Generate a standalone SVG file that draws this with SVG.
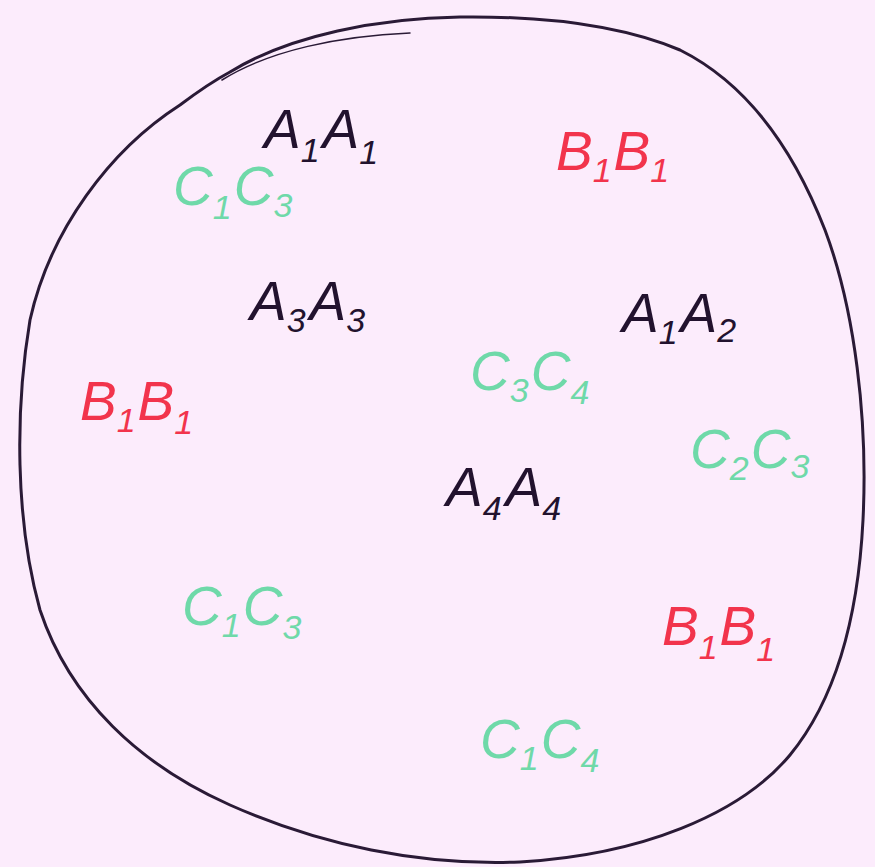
<svg xmlns="http://www.w3.org/2000/svg" width="875" height="867" viewBox="0 0 875 867">
<style>
.lbl{font-family:"Liberation Sans",Arial,sans-serif;font-style:italic;font-size:55px;}
.sub{font-size:34px;}
.a{fill:#22122e;}
.b{fill:#f2344c;}
.c{fill:#6fd9a9;}
.outline{fill:none;stroke:#2a1a36;stroke-width:3;stroke-linecap:round;stroke-linejoin:round;}
</style>
<rect width="875" height="867" fill="#fcecfc"/>
<g id="outline">
<path class="outline" d="M230,72 C290,35 380,18 460,17 C540,16 620,25 680,50 C740,80 790,140 825,230 C855,310 868,420 863,520 C858,620 835,700 790,755 C740,815 640,855 520,862 C420,866 320,845 230,805 C140,765 70,700 40,610 C15,520 15,410 30,320 C50,230 110,150 180,105 C200,90 215,80 230,72"/>
<path class="outline" style="stroke-width:1.5" d="M222,80 C270,50 340,36 410,33"/>
</g>
<g id="A1A1"><text class="lbl a" x="264" y="148">A<tspan class="sub" dy="14">1</tspan><tspan dy="-14" dx="3">A</tspan><tspan class="sub" dy="16">1</tspan></text></g>
<g id="B1B1-top"><text class="lbl b" x="556" y="170">B<tspan class="sub" dy="12">1</tspan><tspan dy="-12" dx="2">B</tspan><tspan class="sub" dy="12">1</tspan></text></g>
<g id="C1C3-top"><text class="lbl c" x="173" y="205">C<tspan class="sub" dy="14">1</tspan><tspan dy="-14" dx="2">C</tspan><tspan class="sub" dy="12">3</tspan></text></g>
<g id="A3A3"><text class="lbl a" x="250" y="320">A<tspan class="sub" dy="12">3</tspan><tspan dy="-12" dx="4">A</tspan><tspan class="sub" dy="12">3</tspan></text></g>
<g id="A1A2"><text class="lbl a" x="622" y="332">A<tspan class="sub" dy="12">1</tspan><tspan dy="-12" dx="3">A</tspan><tspan class="sub" dy="10">2</tspan></text></g>
<g id="C3C4"><text class="lbl c" x="470" y="390">C<tspan class="sub" dy="12">3</tspan><tspan dy="-12" dx="2">C</tspan><tspan class="sub" dy="14">4</tspan></text></g>
<g id="B1B1-left"><text class="lbl b" x="80" y="420">B<tspan class="sub" dy="12">1</tspan><tspan dy="-12" dx="2">B</tspan><tspan class="sub" dy="14">1</tspan></text></g>
<g id="C2C3"><text class="lbl c" x="690" y="468">C<tspan class="sub" dy="12">2</tspan><tspan dy="-12" dx="2">C</tspan><tspan class="sub" dy="10">3</tspan></text></g>
<g id="A4A4"><text class="lbl a" x="446" y="506">A<tspan class="sub" dy="14">4</tspan><tspan dy="-14" dx="4">A</tspan><tspan class="sub" dy="14">4</tspan></text></g>
<g id="C1C3-low"><text class="lbl c" x="182" y="625">C<tspan class="sub" dy="12">1</tspan><tspan dy="-12" dx="2">C</tspan><tspan class="sub" dy="14">3</tspan></text></g>
<g id="B1B1-low"><text class="lbl b" x="662" y="645">B<tspan class="sub" dy="14">1</tspan><tspan dy="-14" dx="2">B</tspan><tspan class="sub" dy="16">1</tspan></text></g>
<g id="C1C4"><text class="lbl c" x="480" y="758">C<tspan class="sub" dy="12">1</tspan><tspan dy="-12" dx="2">C</tspan><tspan class="sub" dy="14">4</tspan></text></g>
</svg>
